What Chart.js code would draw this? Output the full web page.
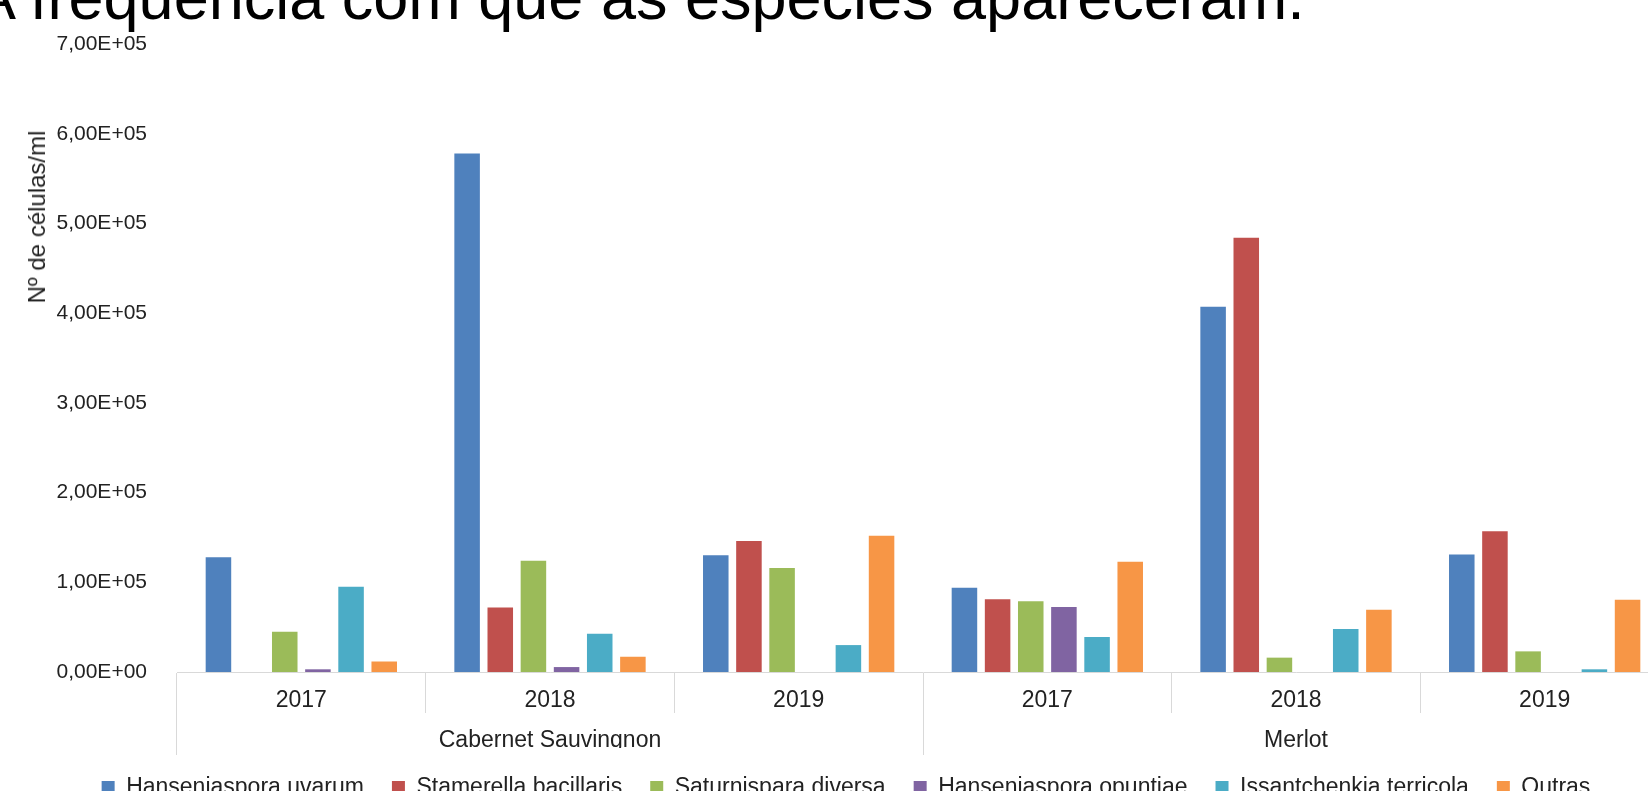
<!DOCTYPE html>
<html lang="pt">
<head>
<meta charset="utf-8">
<title>Nº de células/ml</title>
<script src="https://cdn.jsdelivr.net/npm/chart.js@4.4.1/dist/chart.umd.min.js"></script>
<style>
  html, body {
    margin: 0;
    padding: 0;
    width: 1648px;
    height: 791px;
    overflow: hidden;
    background: #fff;
  }
  body {
    position: relative;
    font-family: "Liberation Sans", Arial, sans-serif;
  }
  #chart {
    position: absolute;
    left: 0;
    top: 0;
  }
  #page-title {
    position: absolute;
    left: -26px;
    top: -34px;
    font-size: 63px;
    line-height: 1;
    color: #000;
    white-space: nowrap;
  }
  #y-title {
    position: absolute;
    left: 37px;
    top: 217px;
    transform: translate(-50%, -50%) rotate(-90deg);
    font-size: 24px;
    line-height: 1;
    color: #222;
    white-space: nowrap;
  }
</style>
</head>
<body>
<canvas id="chart" width="1713" height="809"></canvas>
<div id="page-title">A frequência com que as espécies apareceram.</div>
<div id="y-title">Nº de células/ml</div>

<script>
// x axis: year under each grape variety
const years = ["2017", "2018", "2019", "2017", "2018", "2019"];
const varieties = ["", "Cabernet Sauvingnon", "", "", "Merlot", ""];

// cells/ml per species, same order as years
const hanseniasporaUvarum = [128000, 578000, 130000, 94000, 407000, 131000];
const stamerellaBacillaris = [0, 72000, 146000, 81000, 484000, 157000];
const saturnisparaDiversa = [45000, 124000, 116000, 79000, 16000, 23000];
const hanseniasporaOpuntiae = [3000, 5500, 0, 72500, 0, 0];
const issantchenkiaTerricola = [95000, 42500, 30000, 39000, 48000, 3000];
const outras = [11700, 17000, 152000, 123000, 69500, 80500];

const yMax = 700000;
const yStep = 100000;

const series = [
  { label: "Hanseniaspora uvarum", data: hanseniasporaUvarum, color: "#4f81bd" },
  { label: "Stamerella bacillaris", data: stamerellaBacillaris, color: "#c0504d" },
  { label: "Saturnispara diversa", data: saturnisparaDiversa, color: "#9bbb59" },
  { label: "Hanseniaspora opuntiae", data: hanseniasporaOpuntiae, color: "#8064a2" },
  { label: "Issantchenkia terricola", data: issantchenkiaTerricola, color: "#4bacc6" },
  { label: "Outras", data: outras, color: "#f79646" }
];

const axisGray = "#d9d9d9";
const textColor = "#222";

function formatScientific(value) {
  if (value === 0) {
    return "0,00E+00";
  }
  const exp = Math.floor(Math.log10(value));
  const mantissa = value / Math.pow(10, exp);
  return mantissa.toFixed(2).replace(".", ",") + "E+" + String(exp).padStart(2, "0");
}

Chart.defaults.font.family = '"Liberation Sans", Arial, sans-serif';

new Chart(document.getElementById("chart"), {
  type: "bar",
  data: {
    labels: years,
    datasets: series.map((s) => ({
      label: s.label,
      data: s.data,
      backgroundColor: s.color,
      borderWidth: 0,
      barPercentage: 0.77,
      categoryPercentage: 0.8
    }))
  },
  options: {
    responsive: false,
    animation: false,
    devicePixelRatio: 1,
    layout: {
      // canvas runs past the right edge of the window, like the cropped original
      padding: { top: 44, right: 44, bottom: 0, left: 23 }
    },
    plugins: {
      tooltip: { enabled: false },
      legend: {
        position: "bottom",
        labels: {
          boxWidth: 13,
          boxHeight: 13,
          padding: 28,
          color: textColor,
          font: { size: 23 }
        }
      }
    },
    scales: {
      x: {
        type: "category",
        offset: true,
        grid: {
          offset: true,
          drawOnChartArea: false,
          tickLength: 41,
          color: axisGray
        },
        border: { display: true, color: axisGray },
        ticks: {
          color: textColor,
          font: { size: 23 },
          padding: -26.5,
          maxRotation: 0,
          autoSkip: false
        },
        afterFit: (scale) => {
          scale.height = 41;
        }
      },
      x2: {
        type: "category",
        labels: varieties,
        position: "bottom",
        weight: 1,
        offset: true,
        grid: {
          offset: true,
          drawOnChartArea: false,
          tickLength: 42,
          color: (ctx) => (ctx.index % 3 === 0 ? axisGray : "rgba(0,0,0,0)")
        },
        border: { display: false },
        ticks: {
          color: textColor,
          font: { size: 23 },
          padding: -27.8,
          maxRotation: 0,
          autoSkip: false
        },
        afterFit: (scale) => {
          scale.height = 35;
        }
      },
      y: {
        min: 0,
        max: yMax,
        grid: { display: false },
        border: { display: false },
        ticks: {
          stepSize: yStep,
          color: textColor,
          font: { size: 21 },
          padding: 22,
          callback: formatScientific
        },
        afterFit: (scale) => {
          scale.width = 154;
        }
      }
    }
  }
});
</script>
</body>
</html>
